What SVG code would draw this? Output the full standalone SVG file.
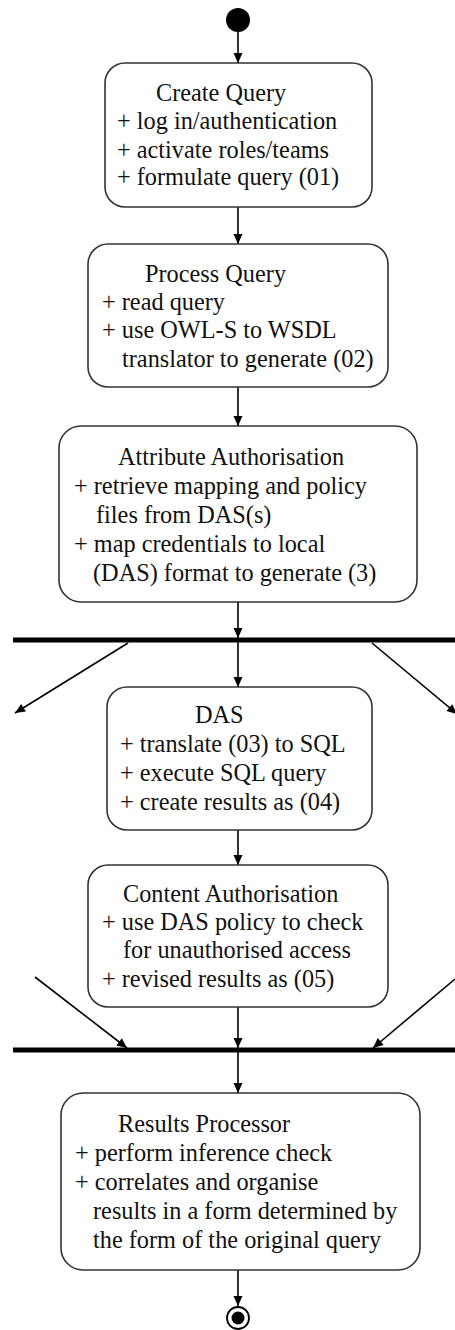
<svg xmlns="http://www.w3.org/2000/svg" width="455" height="1330" viewBox="0 0 455 1330">
<style>
.box{fill:#ffffff;stroke:#333333;stroke-width:1.6}
.t{font-family:"Liberation Serif","Times New Roman",serif;font-size:24.3px;fill:#111111}
.c{stroke:#000000;stroke-width:1.6;fill:none;marker-end:url(#ah)}
.bar{stroke:#000000;stroke-width:5}
</style>
<defs>
<marker id="ah" markerUnits="userSpaceOnUse" markerWidth="12" markerHeight="12" viewBox="0 0 12 12" refX="11" refY="6" orient="auto">
<path d="M1,1.5 L11,6 L1,10.5 Z" fill="#000000"/>
</marker>
</defs>
<rect width="455" height="1330" fill="#ffffff"/>
<g id="connectors">
<line class="c" x1="238" y1="31" x2="238" y2="63"/>
<line class="c" x1="238" y1="207" x2="238" y2="244"/>
<line class="c" x1="238" y1="387" x2="238" y2="426"/>
<line class="c" x1="238" y1="602" x2="238" y2="638"/>
<line class="c" x1="238" y1="642" x2="238" y2="687"/>
<line class="c" x1="128" y1="643" x2="15" y2="713"/>
<line class="c" x1="372" y1="643" x2="457" y2="714"/>
<line class="c" x1="238" y1="830" x2="238" y2="865"/>
<line class="c" x1="238" y1="1007" x2="238" y2="1048"/>
<line class="c" x1="35" y1="977" x2="127" y2="1048"/>
<line class="c" x1="455" y1="979" x2="373" y2="1048"/>
<line class="c" x1="238" y1="1052" x2="238" y2="1093"/>
<line class="c" x1="238" y1="1270" x2="238" y2="1306"/>
</g>
<g id="start">
<circle cx="238" cy="20" r="12" fill="#000000"/>
</g>
<g id="fork">
<line class="bar" x1="13" y1="640" x2="455" y2="640"/>
</g>
<g id="join">
<line class="bar" x1="13" y1="1050" x2="455" y2="1050"/>
</g>
<g id="create-query">
<rect class="box" x="105" y="63" width="267" height="144" rx="20"/>
<text class="t" x="156" y="101">Create Query</text>
<text class="t" x="117" y="129">+ log in/authentication</text>
<text class="t" x="117" y="158">+ activate roles/teams</text>
<text class="t" x="117" y="185">+ formulate query (01)</text>
</g>
<g id="process-query">
<rect class="box" x="88" y="244" width="300" height="143" rx="20"/>
<text class="t" x="145" y="282">Process Query</text>
<text class="t" x="102" y="310">+ read query</text>
<text class="t" x="102" y="338">+ use OWL-S to WSDL</text>
<text class="t" x="122" y="367">translator to generate (02)</text>
</g>
<g id="attribute-authorisation">
<rect class="box" x="59" y="426" width="358" height="176" rx="22"/>
<text class="t" x="118" y="465">Attribute Authorisation</text>
<text class="t" x="74" y="494">+ retrieve mapping and policy</text>
<text class="t" x="96" y="523">files from DAS(s)</text>
<text class="t" x="74" y="552">+ map credentials to local</text>
<text class="t" x="93" y="581">(DAS) format to generate (3)</text>
</g>
<g id="das">
<rect class="box" x="107" y="687" width="265" height="143" rx="20"/>
<text class="t" x="195" y="723">DAS</text>
<text class="t" x="120" y="752">+ translate (03) to SQL</text>
<text class="t" x="120" y="781">+ execute SQL query</text>
<text class="t" x="120" y="810">+ create results as (04)</text>
</g>
<g id="content-authorisation">
<rect class="box" x="88" y="865" width="300" height="142" rx="20"/>
<text class="t" x="123" y="902">Content Authorisation</text>
<text class="t" x="102" y="930">+ use DAS policy to check</text>
<text class="t" x="123" y="958">for unauthorised access</text>
<text class="t" x="102" y="987">+ revised results as (05)</text>
</g>
<g id="results-processor">
<rect class="box" x="61" y="1093" width="359" height="177" rx="22"/>
<text class="t" x="118" y="1132">Results Processor</text>
<text class="t" x="75" y="1161">+ perform inference check</text>
<text class="t" x="75" y="1190">+ correlates and organise</text>
<text class="t" x="93" y="1219">results in a form determined by</text>
<text class="t" x="93" y="1248">the form of the original query</text>
</g>
<g id="end">
<circle cx="238" cy="1318" r="11" fill="#ffffff" stroke="#000000" stroke-width="1.8"/>
<circle cx="238" cy="1318" r="6.5" fill="#000000"/>
</g>
</svg>
